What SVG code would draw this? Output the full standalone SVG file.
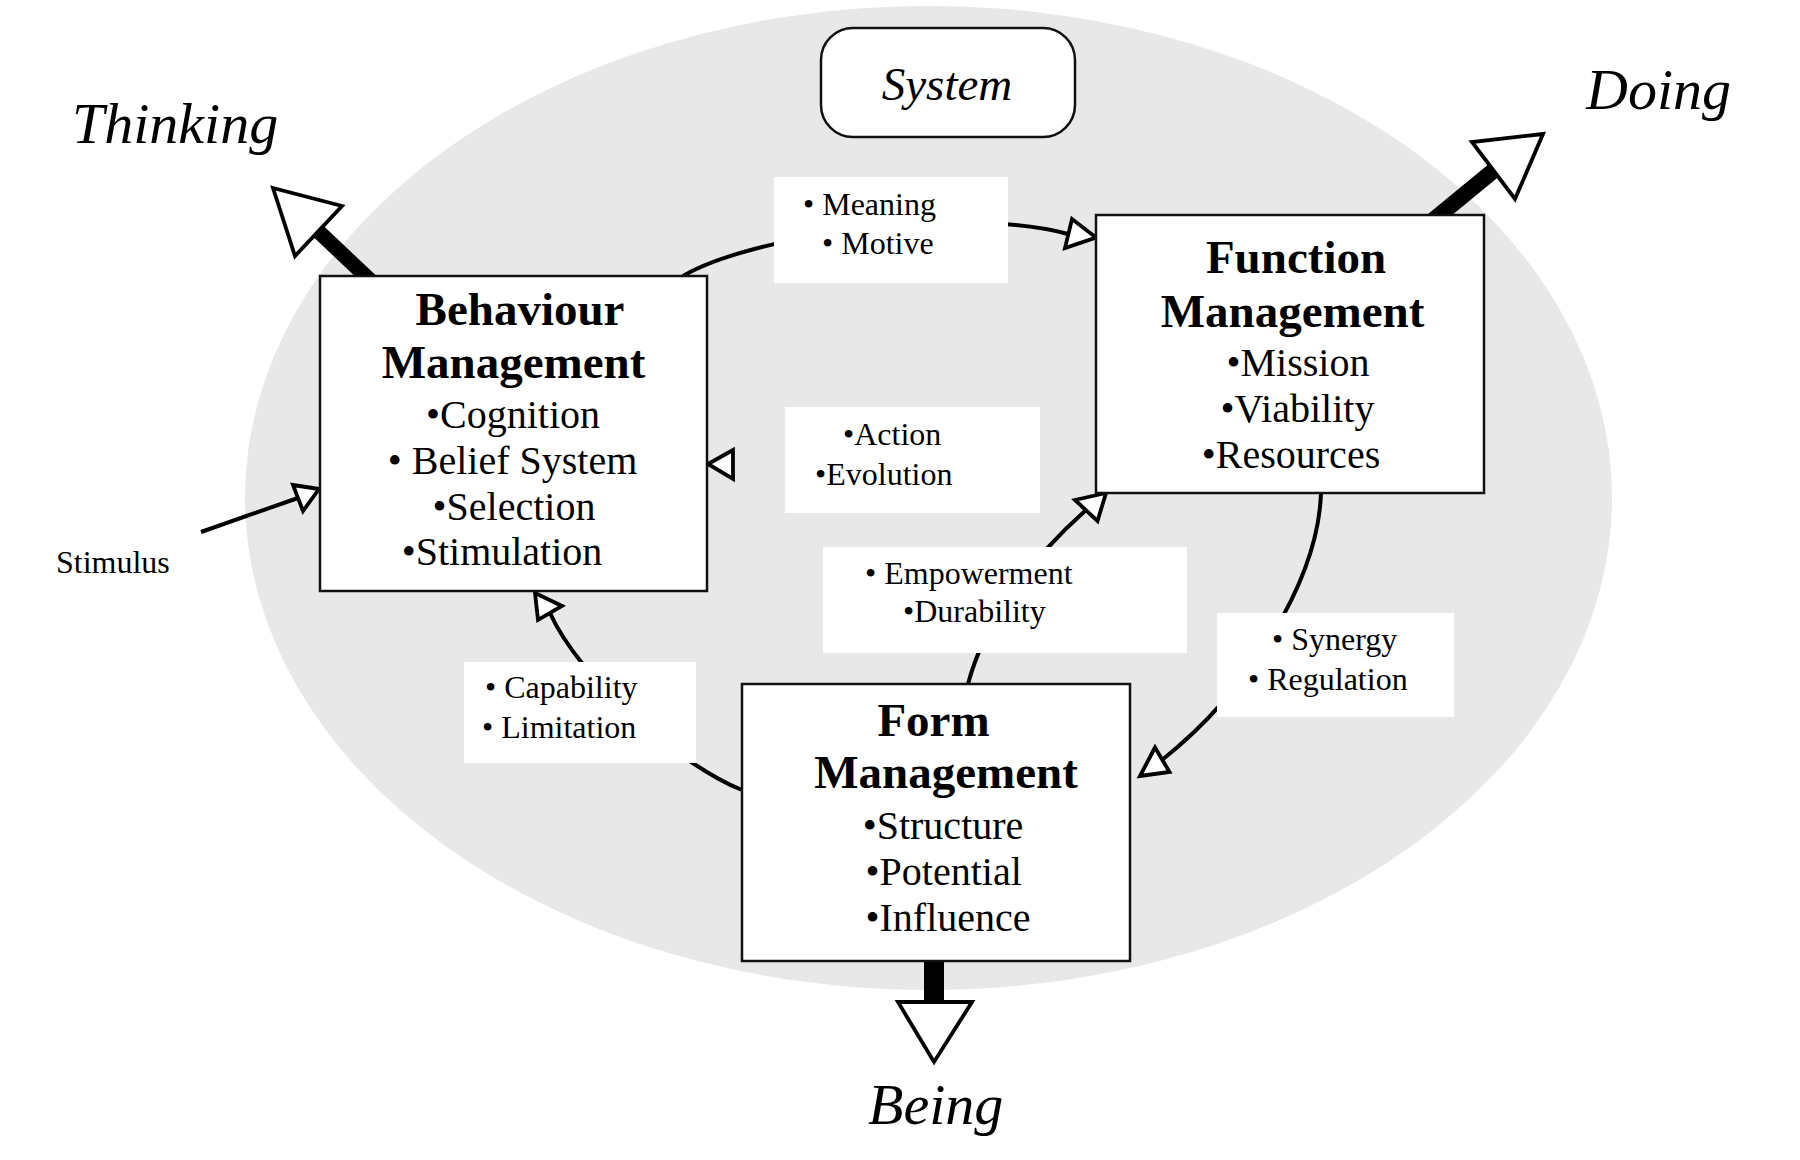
<svg xmlns="http://www.w3.org/2000/svg" width="1800" height="1160" viewBox="0 0 1800 1160">
<style>
  .node { fill: #ffffff; stroke: #111111; stroke-width: 2.5; }
  .label-bg { fill: #ffffff; stroke: none; }
  .arc { fill: none; stroke: #000000; stroke-width: 4; }
  .head { fill: #ffffff; stroke: #000000; stroke-width: 3.8; stroke-linejoin: miter; }
  .shaft { stroke: #000000; fill: none; }
  .title { font-family: "Liberation Serif", "Times New Roman", serif; font-weight: bold; font-size: 47px; text-anchor: middle; fill: #000; }
  .item { font-family: "Liberation Serif", "Times New Roman", serif; font-size: 40px; text-anchor: middle; fill: #000; }
  .lbl { font-family: "Liberation Serif", "Times New Roman", serif; font-size: 32px; fill: #000; }
  .big { font-family: "Liberation Serif", "Times New Roman", serif; font-style: italic; font-size: 58px; fill: #000; }
</style>
<rect x="0" y="0" width="1800" height="1160" fill="#ffffff"/>
<ellipse id="system-area" cx="928.5" cy="498" rx="683.5" ry="492" fill="#e8e8e8"/>

<g id="connectors">
  <!-- Meaning / Motive: Behaviour -> Function -->
  <path class="arc" d="M683,276 C750,236 960,205 1068,234"/>
  <polygon class="head" points="1096,237.5 1072,219 1065,248"/>
  <!-- Synergy / Regulation: Function -> Form -->
  <path class="arc" d="M1321,493 C1318,580 1250,690 1162,760"/>
  <polygon class="head" points="1140,776 1155,747.5 1169.5,772"/>
  <!-- Empowerment / Durability: Form -> Function -->
  <path class="arc" d="M968,684 C985,620 1030,560 1086,510"/>
  <polygon class="head" points="1106,493 1075,500 1097.5,521"/>
  <!-- Capability / Limitation: Form -> Behaviour -->
  <path class="arc" d="M742,790 C680,765 580,680 550,613"/>
  <polygon class="head" points="535,593 562,606 538,620"/>
  <!-- Action / Evolution -->
  <polygon class="head" points="708,464 733,450 733,479"/>
  <!-- Stimulus -->
  <path class="arc" d="M201,532 L298,498"/>
  <polygon class="head" points="319,489 293,485 303,511"/>
  <!-- Thinking -->
  <path class="shaft" stroke-width="15" d="M372,282 L318,231"/>
  <polygon class="head" points="273,188 342,206 295,256"/>
  <!-- Doing -->
  <path class="shaft" stroke-width="16" d="M1431,222 L1493,171"/>
  <polygon class="head" points="1543,134 1472,142 1515,199"/>
  <!-- Being -->
  <path class="shaft" stroke-width="20" d="M934,955 L934,1002"/>
  <polygon class="head" points="898,1002 972,1002 934,1062"/>
</g>

<g id="labels">
  <g id="label-meaning">
    <rect class="label-bg" x="774" y="177" width="234" height="106"/>
    <text class="lbl" x="803" y="215">• Meaning</text>
    <text class="lbl" x="822" y="254">• Motive</text>
  </g>
  <g id="label-action">
    <rect class="label-bg" x="785" y="407" width="255" height="106"/>
    <text class="lbl" x="843" y="445">•Action</text>
    <text class="lbl" x="815" y="485">•Evolution</text>
  </g>
  <g id="label-empowerment">
    <rect class="label-bg" x="823" y="547" width="364" height="106"/>
    <text class="lbl" x="865" y="584">• Empowerment</text>
    <text class="lbl" x="903" y="622">•Durability</text>
  </g>
  <g id="label-synergy">
    <rect class="label-bg" x="1217" y="613" width="237" height="104"/>
    <text class="lbl" x="1272" y="650">• Synergy</text>
    <text class="lbl" x="1248" y="690">• Regulation</text>
  </g>
  <g id="label-capability">
    <rect class="label-bg" x="464" y="662" width="232" height="101"/>
    <text class="lbl" x="485" y="698">• Capability</text>
    <text class="lbl" x="482" y="738">• Limitation</text>
  </g>
  <text id="label-stimulus" class="lbl" x="56" y="573">Stimulus</text>
</g>

<g id="system">
  <rect x="821" y="28" width="254" height="109" rx="32" ry="32" fill="#ffffff" stroke="#111111" stroke-width="2.5"/>
  <text class="big" x="947" y="100" text-anchor="middle" style="font-size:47px">System</text>
</g>

<g id="behaviour-management">
  <rect class="node" x="320" y="276" width="387" height="315"/>
  <text class="title" x="520" y="325">Behaviour</text>
  <text class="title" x="513.5" y="378">Management</text>
  <text class="item" x="513" y="428">•Cognition</text>
  <text class="item" x="512.5" y="474">• Belief System</text>
  <text class="item" x="514" y="520">•Selection</text>
  <text class="item" x="502" y="565">•Stimulation</text>
</g>

<g id="function-management">
  <rect class="node" x="1096" y="215" width="388" height="278"/>
  <text class="title" x="1296" y="273">Function</text>
  <text class="title" x="1292.5" y="327">Management</text>
  <text class="item" x="1298" y="376">•Mission</text>
  <text class="item" x="1297.5" y="422">•Viability</text>
  <text class="item" x="1291" y="468">•Resources</text>
</g>

<g id="form-management">
  <rect class="node" x="742" y="684" width="388" height="277"/>
  <text class="title" x="933.5" y="736">Form</text>
  <text class="title" x="946" y="788">Management</text>
  <text class="item" x="943" y="839">•Structure</text>
  <text class="item" x="943.7" y="885">•Potential</text>
  <text class="item" x="948" y="931">•Influence</text>
</g>

<g id="outcomes">
  <text id="thinking" class="big" x="72" y="143">Thinking</text>
  <text id="doing" class="big" x="1586" y="109">Doing</text>
  <text id="being" class="big" x="868" y="1124">Being</text>
</g>
</svg>
